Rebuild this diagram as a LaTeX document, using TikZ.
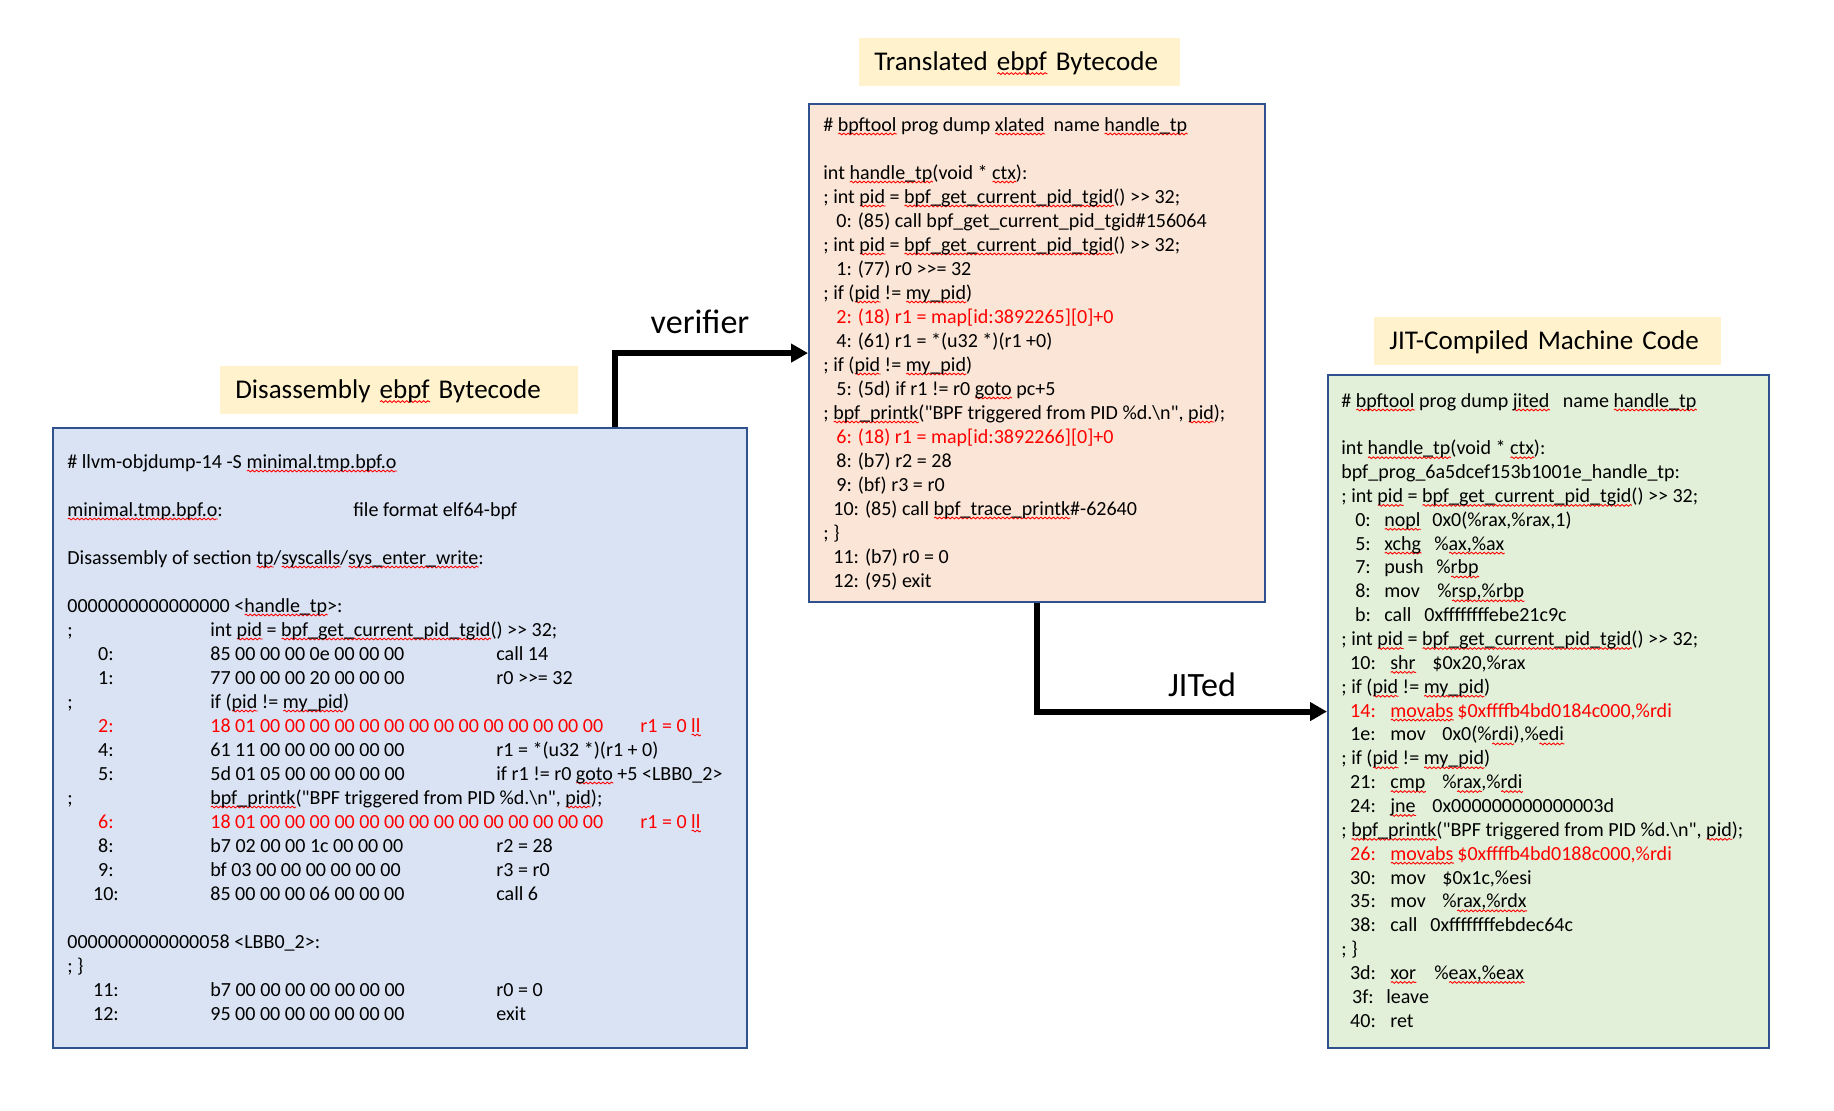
\documentclass[tikz,border=0pt]{standalone}
\usepackage{fontspec}
\newfontfamily\calibrifont{Carlito}
\usetikzlibrary{arrows.meta, decorations.pathmorphing}

\definecolor{boxline}{RGB}{47,82,143}
\definecolor{objfill}{RGB}{218,227,243}
\definecolor{xlatedfill}{RGB}{251,229,214}
\definecolor{jitedfill}{RGB}{226,240,217}
\definecolor{titlefill}{RGB}{255,242,204}
\definecolor{hilite}{RGB}{255,0,0}

% red wavy spell-check underline
\newsavebox\spellbox
\newcommand\spell[1]{\sbox\spellbox{#1}%
    \rlap{\tikz[baseline=0pt]\draw[hilite, line width=0.5pt, decorate,
        decoration={snake, amplitude=0.5pt, segment length=2.4pt}]
        (0pt,-1.7pt) -- (\the\wd\spellbox,-1.7pt);}%
    \usebox\spellbox}

\begin{document}
\begin{tikzpicture}[x=0.02cm, y=-0.02cm,
    codebox/.style={draw=boxline, line width=0.045cm, inner sep=0pt, anchor=north west},
    titlebox/.style={fill=titlefill, anchor=north west, inner xsep=0.3cm, inner ysep=0pt,
        minimum height=0.95cm, text height=0.34cm, text depth=0pt, align=left,
        font=\calibrifont\fontsize{15.4}{18}\selectfont},
    code/.style={font=\calibrifont\fontsize{11.4}{13.7}\selectfont, inner sep=0pt, anchor=base west},
    flowlabel/.style={font=\calibrifont\fontsize{19.4}{23}\selectfont, inner sep=0pt, anchor=base},
    flow/.style={line width=0.12cm, -{Triangle[length=0.34cm, width=0.36cm]}}]

    \useasboundingbox (0,0) rectangle (1834,1110);

    % --- Boxes ---
    \node[codebox, fill=objfill, minimum width=13.88cm, minimum height=12.4cm] (objdump) at (52,427) {};
    \node[codebox, fill=xlatedfill, minimum width=9.12cm, minimum height=9.96cm] (xlated) at (808,103) {};
    \node[codebox, fill=jitedfill, minimum width=8.82cm, minimum height=13.46cm] (jited) at (1327,374) {};

    % --- Titles ---
    \node[titlebox, text width=6.56cm] (objtitle) at (220,366) {Disassembly \spell{ebpf} Bytecode};
    \node[titlebox, text width=5.82cm] (xlatedtitle) at (859,38) {Translated \spell{ebpf} Bytecode};
    \node[titlebox, text width=6.34cm] (jitedtitle) at (1374,317) {JIT-Compiled Machine Code};

    % --- Arrows ---
    \coordinate (vstart) at (615,427);
    \draw[flow] (vstart) |- (xlated.west);
    \draw[flow] (xlated.south) |- (jited.west);
    \node[flowlabel] (verifierlabel) at (700,333) {verifier};
    \node[flowlabel] (jitlabel) at (1202,696) {JITed};

    % --- Disassembly (llvm-objdump) ---
    \foreach \i/\t in {0/{\# llvm-objdump-14 -S \spell{minimal.tmp.bpf.o}}, 2/{\spell{minimal.tmp.bpf.o}:},
        4/{Disassembly of section \spell{tp}/\spell{syscalls}/\spell{sys\_enter\_write}:},
        6/{0000000000000000 <\spell{handle\_tp}>:},
        20/{0000000000000058 <LBB0\_2>:}, 21/{; \}}}
        \node[code] (objtxt\i) at (67, 468+24*\i) {\t};
    \node[code] (fileformat) at (353, 516) {file format elf64-bpf};

    \foreach \i/\t in {7/{int \spell{pid} = \spell{bpf\_get\_current\_pid\_tgid}() >> 32;},
        10/{if (\spell{pid} != \spell{my\_pid})},
        14/{\spell{bpf\_printk}("BPF triggered from PID \%d.\textbackslash n", \spell{pid});}} {
        \node[code] (objsemi\i) at (67, 468+24*\i) {;};
        \node[code] (objsrc\i) at (210, 468+24*\i) {\t};
    }

    \foreach \i/\col/\ofs/\hex/\ax/\insn in {
        8/black/0:/{85 00 00 00 0e 00 00 00}/496/{call 14},
        9/black/1:/{77 00 00 00 20 00 00 00}/496/{r0 >>= 32},
        11/hilite/2:/{18 01 00 00 00 00 00 00 00 00 00 00 00 00 00 00}/640/{r1 = 0 \spell{ll}},
        12/black/4:/{61 11 00 00 00 00 00 00}/496/{r1 = *(u32 *)(r1 + 0)},
        13/black/5:/{5d 01 05 00 00 00 00 00}/496/{if r1 != r0 \spell{goto} +5 <LBB0\_2>},
        15/hilite/6:/{18 01 00 00 00 00 00 00 00 00 00 00 00 00 00 00}/640/{r1 = 0 \spell{ll}},
        16/black/8:/{b7 02 00 00 1c 00 00 00}/496/{r2 = 28},
        17/black/9:/{bf 03 00 00 00 00 00 00}/496/{r3 = r0},
        18/black/10:/{85 00 00 00 06 00 00 00}/496/{call 6},
        22/black/11:/{b7 00 00 00 00 00 00 00}/496/{r0 = 0},
        23/black/12:/{95 00 00 00 00 00 00 00}/496/{exit}} {
        \node[code, anchor=base, text=\col] (objofs\i) at (106, 468+24*\i) {\ofs};
        \node[code, text=\col] (objhex\i) at (210, 468+24*\i) {\hex};
        \node[code, text=\col] (objinsn\i) at (\ax, 468+24*\i) {\insn};
    }

    % --- Translated (xlated) ---
    \foreach \i/\x/\col/\t in {
        0/823/black/{\# \spell{bpftool} prog dump \spell{xlated}\ \ name \spell{handle\_tp}},
        2/823/black/{int \spell{handle\_tp}(void * \spell{ctx}):},
        3/823/black/{; int \spell{pid} = \spell{bpf\_get\_current\_pid\_tgid}() >> 32;},
        4/836/black/{0: (85) call bpf\_get\_current\_pid\_tgid\#156064},
        5/823/black/{; int \spell{pid} = \spell{bpf\_get\_current\_pid\_tgid}() >> 32;},
        6/836/black/{1: (77) r0 >>= 32},
        7/823/black/{; if (\spell{pid} != \spell{my\_pid})},
        8/836/hilite/{2: (18) r1 = map[id:3892265][0]+0},
        9/836/black/{4: (61) r1 = *(u32 *)(r1 +0)},
        10/823/black/{; if (\spell{pid} != \spell{my\_pid})},
        11/836/black/{5: (5d) if r1 != r0 \spell{goto} pc+5},
        12/823/black/{; \spell{bpf\_printk}("BPF triggered from PID \%d.\textbackslash n", \spell{pid});},
        13/836/hilite/{6: (18) r1 = map[id:3892266][0]+0},
        14/836/black/{8: (b7) r2 = 28},
        15/836/black/{9: (bf) r3 = r0},
        16/833/black/{10: (85) call \spell{bpf\_trace\_printk}\#-62640},
        17/823/black/{; \}},
        18/833/black/{11: (b7) r0 = 0},
        19/833/black/{12: (95) exit}}
        \node[code, text=\col] (xltxt\i) at (\x, 131+24*\i) {\t};

    % --- JIT-compiled (jited) ---
    \foreach \i/\t in {0/{\# \spell{bpftool} prog dump \spell{jited}\ \ \ name \spell{handle\_tp}},
        2/{int \spell{handle\_tp}(void * \spell{ctx}):}, 3/{bpf\_prog\_6a5dcef153b1001e\_handle\_tp:},
        4/{; int \spell{pid} = \spell{bpf\_get\_current\_pid\_tgid}() >> 32;},
        10/{; int \spell{pid} = \spell{bpf\_get\_current\_pid\_tgid}() >> 32;},
        12/{; if (\spell{pid} != \spell{my\_pid})}, 15/{; if (\spell{pid} != \spell{my\_pid})},
        18/{; \spell{bpf\_printk}("BPF triggered from PID \%d.\textbackslash n", \spell{pid});}, 23/{; \}}}
        \node[code] (jittxt\i) at (1341, 407+23.85*\i) {\t};

    \foreach \i/\col/\ofs/\mx/\mnem/\ox/\opnd in {
        5/black/0:/1384/{\spell{nopl}}/1432/{0x0(\%rax,\%rax,1)},
        6/black/5:/1384/{\spell{xchg}}/1434/{\%\spell{ax,\%ax}},
        7/black/7:/1384/push/1436/{\%\spell{rbp}},
        8/black/8:/1384/mov/1437/{\%\spell{rsp,\%rbp}},
        9/black/b:/1384/call/1424/{0xffffffffebe21c9c},
        11/black/10:/1390/{\spell{shr}}/1432/{\$0x20,\%rax},
        13/hilite/14:/1390/{\spell{movabs}}/1457/{\$0xffffb4bd0184c000,\%rdi},
        14/black/1e:/1390/mov/1442/{0x0(\%\spell{rdi}),\%\spell{edi}},
        16/black/21:/1390/{\spell{cmp}}/1442/{\%\spell{rax},\%\spell{rdi}},
        17/black/24:/1390/{\spell{jne}}/1432/{0x000000000000003d},
        19/hilite/26:/1390/{\spell{movabs}}/1457/{\$0xffffb4bd0188c000,\%rdi},
        20/black/30:/1390/mov/1442/{\$0x1c,\%esi},
        21/black/35:/1390/mov/1442/{\%\spell{rax,\%rdx}},
        22/black/38:/1390/call/1430/{0xffffffffebdec64c},
        24/black/3d:/1390/{\spell{xor}}/1434/{\%\spell{eax,\%eax}},
        25/black/3f:/1386/leave/1440/{},
        26/black/40:/1390/ret/1440/{}} {
        \node[code, anchor=base, text=\col] (jitofs\i) at (1363, 407+23.85*\i) {\ofs};
        \node[code, text=\col] (jitmnem\i) at (\mx, 407+23.85*\i) {\mnem};
        \node[code, text=\col] (jitopnd\i) at (\ox, 407+23.85*\i) {\opnd};
    }

\end{tikzpicture}
\end{document}
